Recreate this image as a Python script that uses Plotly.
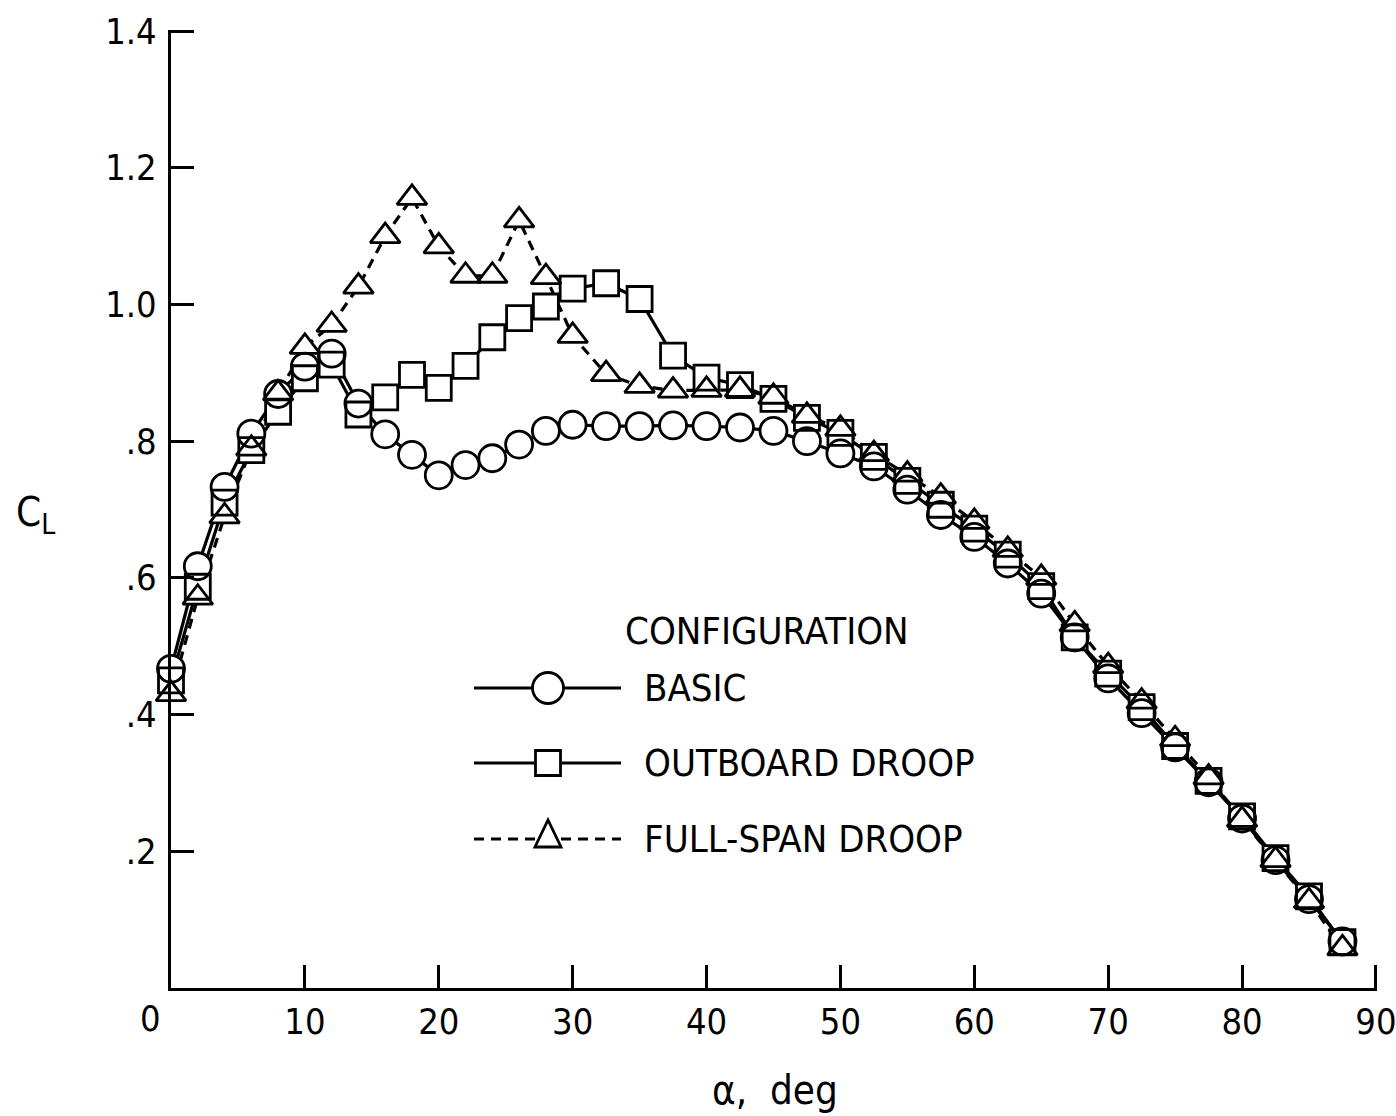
import plotly.graph_objects as go

# ---------------- data ----------------
alpha = [0, 2, 4, 6, 8, 10, 12, 14, 16, 18, 20, 22, 24, 26, 28, 30,
         32.5, 35, 37.5, 40, 42.5, 45, 47.5, 50, 52.5, 55, 57.5, 60, 62.5,
         65, 67.5, 70, 72.5, 75, 77.5, 80, 82.5, 85, 87.5]

cl_basic = [0.467, 0.617, 0.733, 0.811, 0.869, 0.909, 0.928, 0.855, 0.810, 0.780,
            0.750, 0.765, 0.775, 0.795, 0.815, 0.824,
            0.822, 0.822, 0.823, 0.822, 0.820, 0.815, 0.800, 0.782, 0.763, 0.729,
            0.692, 0.660, 0.621, 0.577, 0.513, 0.453, 0.402, 0.352, 0.301, 0.248,
            0.187, 0.130, 0.068]

cl_outboard = [0.450, 0.587, 0.710, 0.787, 0.843, 0.892, 0.912, 0.839, 0.864, 0.897,
               0.878, 0.910, 0.952, 0.980, 0.997, 1.023,
               1.031, 1.008, 0.925, 0.893, 0.882, 0.862, 0.834, 0.812, 0.777, 0.742,
               0.707, 0.672, 0.634, 0.588, 0.513, 0.460, 0.411, 0.354, 0.303, 0.251,
               0.190, 0.134, 0.067]

cl_fullspan = [0.430, 0.571, 0.690, 0.789, 0.870, 0.938, 0.970, 1.026, 1.100, 1.156,
               1.085, 1.042, 1.042, 1.123, 1.040, 0.954,
               0.898, 0.881, 0.874, 0.875, 0.875, 0.865, 0.837, 0.818, 0.781, 0.751,
               0.719, 0.682, 0.641, 0.600, 0.532, 0.471, 0.419, 0.364, 0.308, 0.246,
               0.187, 0.127, 0.058]

series_names = ["BASIC", "OUTBOARD DROOP", "FULL-SPAN DROOP"]
legend_title = "CONFIGURATION"

x_tickvals = [10, 20, 30, 40, 50, 60, 70, 80, 90]
x_ticktext = ["10", "20", "30", "40", "50", "60", "70", "80", "90"]
y_tickvals = [0.2, 0.4, 0.6, 0.8, 1.0, 1.2, 1.4]
y_ticktext = [".2", ".4", ".6", ".8", "1.0", "1.2", "1.4"]

# ---------------- styling ----------------
FONT = "Liberation Sans Narrow, Arial Narrow, DejaVu Sans Condensed, sans-serif"
W, H = 1396, 1116
L, R, T, B = 171, 1377, 30, 988
LW = 3.2
TICKFONT = 36
LEGFONT = 38

def px(x):
    return (x - L) / (R - L)

def py(y):
    return (B - y) / (B - T)

series = [
    (cl_basic, "circle", 27, "solid"),
    (cl_outboard, "square", 25, "solid"),
    (cl_fullspan, "triangle-up", 26, "10px,7px"),
]

fig = go.Figure()

# lines
for vals, sym, size, dash in series:
    fig.add_trace(go.Scatter(x=alpha, y=vals, mode="lines",
                             line=dict(color="black", width=LW, dash=dash),
                             showlegend=False, hoverinfo="skip", cliponaxis=False))
# white fill so lines do not cross the hollow symbols
for vals, sym, size, dash in series:
    fig.add_trace(go.Scatter(x=alpha, y=vals, mode="markers",
                             marker=dict(symbol=sym, size=size, color="white",
                                         line=dict(width=0)),
                             showlegend=False, hoverinfo="skip", cliponaxis=False))
# hollow outlines
for vals, sym, size, dash in series:
    fig.add_trace(go.Scatter(x=alpha, y=vals, mode="markers",
                             marker=dict(symbol=sym + "-open", size=size, color="black",
                                         line=dict(width=2.8, color="black")),
                             showlegend=False, cliponaxis=False))

# ---------------- manual legend ----------------
shapes = []
annotations = []
rows_y = [688, 763, 839]
line_x0, line_x1, mark_x = 474, 621, 548
gaps = [(532, 563), (535, 561), (536, 561)]
for i, (name, (vals, sym, size, dash), ry, gap) in enumerate(zip(series_names, series, rows_y, gaps)):
    for xa, xb in [(line_x0, gap[0]), (gap[1], line_x1)]:
        shapes.append(dict(type="line", xref="paper", yref="paper",
                           x0=px(xa), x1=px(xb), y0=py(ry), y1=py(ry),
                           line=dict(color="black", width=LW, dash=dash)))
    if sym == "circle":
        shapes.append(dict(type="circle", xref="paper", yref="paper",
                           xsizemode="pixel", ysizemode="pixel",
                           xanchor=px(mark_x), yanchor=py(ry),
                           x0=-15.5, x1=15.5, y0=-15.5, y1=15.5,
                           line=dict(color="black", width=2.8), fillcolor="white"))
    elif sym == "square":
        shapes.append(dict(type="rect", xref="paper", yref="paper",
                           xsizemode="pixel", ysizemode="pixel",
                           xanchor=px(mark_x), yanchor=py(ry),
                           x0=-12.5, x1=12.5, y0=-12.5, y1=12.5,
                           line=dict(color="black", width=2.8), fillcolor="white"))
    else:
        shapes.append(dict(type="path", xref="paper", yref="paper",
                           xsizemode="pixel", ysizemode="pixel",
                           xanchor=px(mark_x), yanchor=py(ry),
                           path="M-13,-8 L13,-8 L0,19 Z",
                           line=dict(color="black", width=2.8), fillcolor="white"))
    annotations.append(dict(text=name, xref="paper", yref="paper",
                            x=px(642), y=py(ry), xanchor="left", yanchor="middle",
                            showarrow=False, font=dict(family=FONT, size=LEGFONT, color="black")))

annotations.append(dict(text=legend_title, xref="paper", yref="paper",
                        x=px(623), y=py(631), xanchor="left", yanchor="middle",
                        showarrow=False, font=dict(family=FONT, size=LEGFONT, color="black")))

# axis titles and the "0" label
annotations.append(dict(text="C<sub>L</sub>", xref="paper", yref="paper",
                        x=px(14), y=py(515), xanchor="left", yanchor="middle",
                        showarrow=False, font=dict(family=FONT, size=40, color="black")))
annotations.append(dict(text="α,  deg", xref="paper", yref="paper",
                        x=px(775), y=py(1090), xanchor="center", yanchor="middle",
                        showarrow=False, font=dict(family=FONT, size=40, color="black")))
annotations.append(dict(text="0", xref="paper", yref="paper",
                        x=px(150), y=py(1018), xanchor="center", yanchor="middle",
                        showarrow=False, font=dict(family=FONT, size=TICKFONT, color="black")))

fig.update_layout(
    width=W, height=H, autosize=False,
    margin=dict(l=L, r=W - R, t=T, b=H - B, pad=0, autoexpand=False),
    paper_bgcolor="white", plot_bgcolor="white",
    font=dict(family=FONT, size=TICKFONT, color="black"),
    shapes=shapes, annotations=annotations,
    xaxis=dict(range=[0, 90.08], showgrid=False, zeroline=False, automargin=False,
               showline=True, linecolor="black", linewidth=LW,
               ticks="inside", ticklen=23, tickwidth=LW, tickcolor="black",
               tickvals=x_tickvals, ticktext=x_ticktext,
               tickfont=dict(family=FONT, size=TICKFONT, color="black"),
               ticklabelstandoff=0, ticklabeloverflow="allow"),
    yaxis=dict(range=[0, 1.4015], showgrid=False, zeroline=False, automargin=False,
               showline=True, linecolor="black", linewidth=LW,
               ticks="inside", ticklen=23, tickwidth=LW, tickcolor="black",
               tickvals=y_tickvals, ticktext=y_ticktext,
               tickfont=dict(family=FONT, size=TICKFONT, color="black"),
               ticklabelstandoff=4),
)

fig.write_html("out.html")
